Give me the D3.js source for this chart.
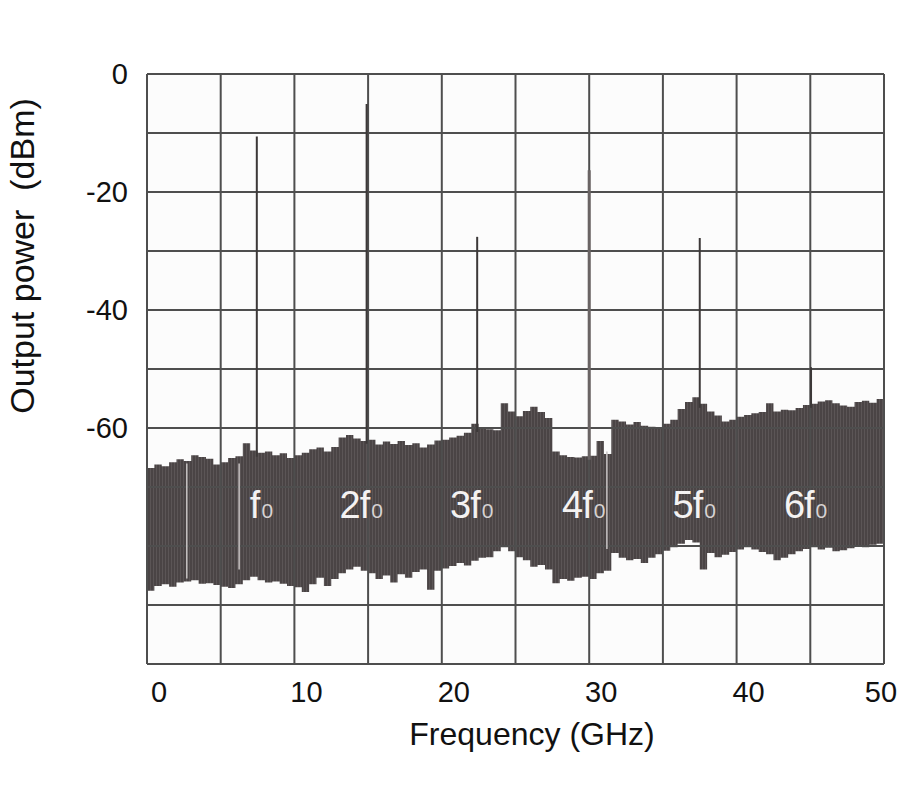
<!DOCTYPE html>
<html>
<head>
<meta charset="utf-8">
<script src="https://cdn.jsdelivr.net/npm/d3@7"></script>
<style>
  body { margin: 0; background: #fff; }
  svg text { font-family: "Liberation Sans", Arial, sans-serif; }
</style>
</head>
<body>
<svg id="chart" width="900" height="800"></svg>
<script>
// noise floor envelope, sampled every 0.5 GHz from 0 to 50 GHz (dBm)
const noiseFreqs = d3.range(0, 50.01, 0.5);
const noiseUpper = [
  -66.8, -66.2, -66.5, -65.8, -65.3, -65.6, -64.6, -64.9, -65.2, -66.2,
  -65.8, -65.1, -64.8, -62.6, -63.8, -64.2, -64.0, -64.6, -64.3, -65.1,
  -64.6, -64.2, -63.6, -63.3, -64.0, -63.2, -61.6, -61.2, -61.8, -62.2,
  -62.0, -62.8, -62.3, -62.7, -62.2, -62.9, -62.6, -63.3, -62.8, -62.1,
  -62.0, -61.6, -61.3, -60.8, -59.3, -60.0, -60.2, -60.4, -55.8, -57.2,
  -58.0, -57.1, -56.4, -57.3, -58.3, -64.0, -64.6, -64.9, -65.0, -64.8,
  -64.7, -62.2, -64.4, -58.6, -58.9, -59.4, -59.0, -59.6, -59.8, -60.0,
  -59.3, -58.6, -56.8, -55.6, -54.8, -55.9, -57.2, -57.9, -58.9, -58.6,
  -58.1, -57.8, -57.5, -57.3, -55.8, -57.2, -56.9, -57.0, -56.6, -56.1,
  -55.9, -55.5, -55.3, -55.8, -56.2, -56.4, -55.6, -55.4, -55.7, -55.1,
  -55.0
];
const noiseLower = [
  -87.6, -86.8, -86.5, -86.9, -86.2, -86.0, -85.8, -86.4, -86.3, -86.6,
  -86.9, -87.1, -86.5, -85.8, -85.2, -85.8, -86.2, -86.0, -86.4, -86.8,
  -87.0, -87.8, -86.5, -85.4, -86.8, -85.6, -84.6, -84.0, -83.5, -84.2,
  -84.6, -85.6, -85.0, -86.2, -84.8, -85.4, -84.4, -84.0, -87.4, -84.2,
  -83.8, -83.4, -82.9, -83.3, -82.5, -82.0, -81.9, -80.9, -80.2, -80.9,
  -81.9, -82.4, -83.5, -83.2, -84.0, -86.3, -85.6, -85.9, -85.4, -85.2,
  -85.6, -84.6, -84.2, -81.2, -82.0, -82.4, -82.2, -82.9, -82.0, -81.4,
  -80.8, -80.2, -79.6, -79.0, -79.4, -84.0, -81.2, -81.9, -81.5, -81.0,
  -80.6, -80.2, -80.6, -81.0, -81.4, -82.4, -82.0, -81.4, -80.9, -80.5,
  -80.2, -80.6, -80.3, -80.9, -80.7, -80.4, -80.0, -80.2, -79.8, -79.6,
  -79.5
];

// harmonic peaks
const harmonicNames = ['', '2', '3', '4', '5', '6'];
const harmonicFreqs = [7.45, 14.9, 22.4, 30.0, 37.5, 45.05];
const harmonicPeaks = [-10.6, -5.1, -27.6, -16.3, -27.8, -49.7];

// faint marker lines inside the noise band
const markerFreqs = [2.7, 6.25, 31.2];
const markerTops = [-66.0, -66.0, -64.0];
const markerBottoms = [-85.5, -84.0, -80.5];

const xTicks = [0, 10, 20, 30, 40, 50];
const yTicks = [0, -20, -40, -60];

const margin = {top: 74, right: 16, bottom: 136, left: 147};
const width = 900 - margin.left - margin.right;
const height = 800 - margin.top - margin.bottom;

const svg = d3.select('#chart');

const x = d3.scaleLinear().domain([0, 50]).range([0, width]);
const y = d3.scaleLinear().domain([0, -100]).range([0, height]);

const g = svg.append('g')
    .attr('transform', `translate(${margin.left},${margin.top})`);

// stripe texture for the noise band
const defs = svg.append('defs');
const pat = defs.append('pattern')
    .attr('id', 'stripes')
    .attr('patternUnits', 'userSpaceOnUse')
    .attr('width', 3).attr('height', 10);
pat.append('rect').attr('width', 3).attr('height', 10).attr('fill', '#4a4445');
pat.append('rect').attr('width', 1).attr('height', 10).attr('fill', '#5b5556');

g.append('rect')
    .attr('width', width).attr('height', height)
    .attr('fill', '#fcfcfc');

// noise floor
const noise = noiseFreqs.map((f, i) => ({f, hi: noiseUpper[i], lo: noiseLower[i]}));
g.append('path')
    .datum(noise)
    .attr('fill', 'url(#stripes)')
    .attr('d', d3.area()
        .x(d => x(d.f))
        .y0(d => y(d.lo))
        .y1(d => y(d.hi))
        .curve(d3.curveStepAfter));

// grid
g.selectAll('.vgrid')
    .data(d3.range(0, 50.01, 5))
    .join('line')
    .attr('class', 'vgrid')
    .attr('x1', d => x(d)).attr('x2', d => x(d))
    .attr('y1', 0).attr('y2', height)
    .attr('stroke', '#4e4e4e').attr('stroke-width', 2);

g.selectAll('.hgrid')
    .data(d3.range(0, -100.01, -10))
    .join('line')
    .attr('class', 'hgrid')
    .attr('x1', 0).attr('x2', width)
    .attr('y1', d => y(d)).attr('y2', d => y(d))
    .attr('stroke', '#4e4e4e').attr('stroke-width', 2);

// marker lines
g.selectAll('.marker')
    .data(markerFreqs)
    .join('line')
    .attr('class', 'marker')
    .attr('x1', d => x(d)).attr('x2', d => x(d))
    .attr('y1', (d, i) => y(markerTops[i]))
    .attr('y2', (d, i) => y(markerBottoms[i]))
    .attr('stroke', '#c8c4c4').attr('stroke-width', 1.5);

// harmonic spikes
g.selectAll('.spike')
    .data(harmonicFreqs)
    .join('line')
    .attr('class', 'spike')
    .attr('x1', d => x(d)).attr('x2', d => x(d))
    .attr('y1', (d, i) => y(harmonicPeaks[i]))
    .attr('y2', (d, i) => y(noiseUpper[Math.round(d * 2)]) + 4)
    .attr('stroke', (d, i) => i === 3 ? '#6a6464' : '#3c3838')
    .attr('stroke-width', (d, i) => i === 3 ? 3 : 2);

// harmonic labels inside the noise band
harmonicFreqs.forEach((f, i) => {
    const lx = x(f);
    const ly = y(-75.2);
    if (harmonicNames[i]) {
        g.append('text')
            .attr('x', lx - 6).attr('y', ly)
            .attr('text-anchor', 'end')
            .attr('font-size', 38)
            .attr('fill', '#f4f2f2')
            .text(harmonicNames[i]);
    }
    const t = g.append('text')
        .attr('x', lx - 7).attr('y', ly)
        .attr('font-size', 38)
        .attr('fill', '#f4f2f2');
    t.append('tspan').text('f');
    t.append('tspan')
        .attr('font-size', 21)
        .attr('fill', '#d6d2d2')
        .attr('dx', 1)
        .text('0');
});

// axes labels
svg.append('g')
    .selectAll('text')
    .data(yTicks)
    .join('text')
    .attr('x', margin.left - 19)
    .attr('y', d => margin.top + y(d))
    .attr('dy', '0.36em')
    .attr('text-anchor', 'end')
    .attr('font-size', 29)
    .attr('fill', '#111')
    .text(d => d);

svg.append('g')
    .selectAll('text')
    .data(xTicks)
    .join('text')
    .attr('x', d => margin.left + x(d) + (d === 50 ? -3 : 12))
    .attr('y', 702)
    .attr('text-anchor', 'middle')
    .attr('font-size', 29)
    .attr('fill', '#111')
    .text(d => d);

svg.append('text')
    .attr('x', 532).attr('y', 745)
    .attr('text-anchor', 'middle')
    .attr('font-size', 32)
    .attr('fill', '#111')
    .text('Frequency (GHz)');

svg.append('text')
    .attr('transform', 'translate(34,256) rotate(-90)')
    .attr('text-anchor', 'middle')
    .attr('font-size', 34)
    .attr('fill', '#111')
    .style('white-space', 'pre')
    .text('Output power  (dBm)');
</script>
</body>
</html>
